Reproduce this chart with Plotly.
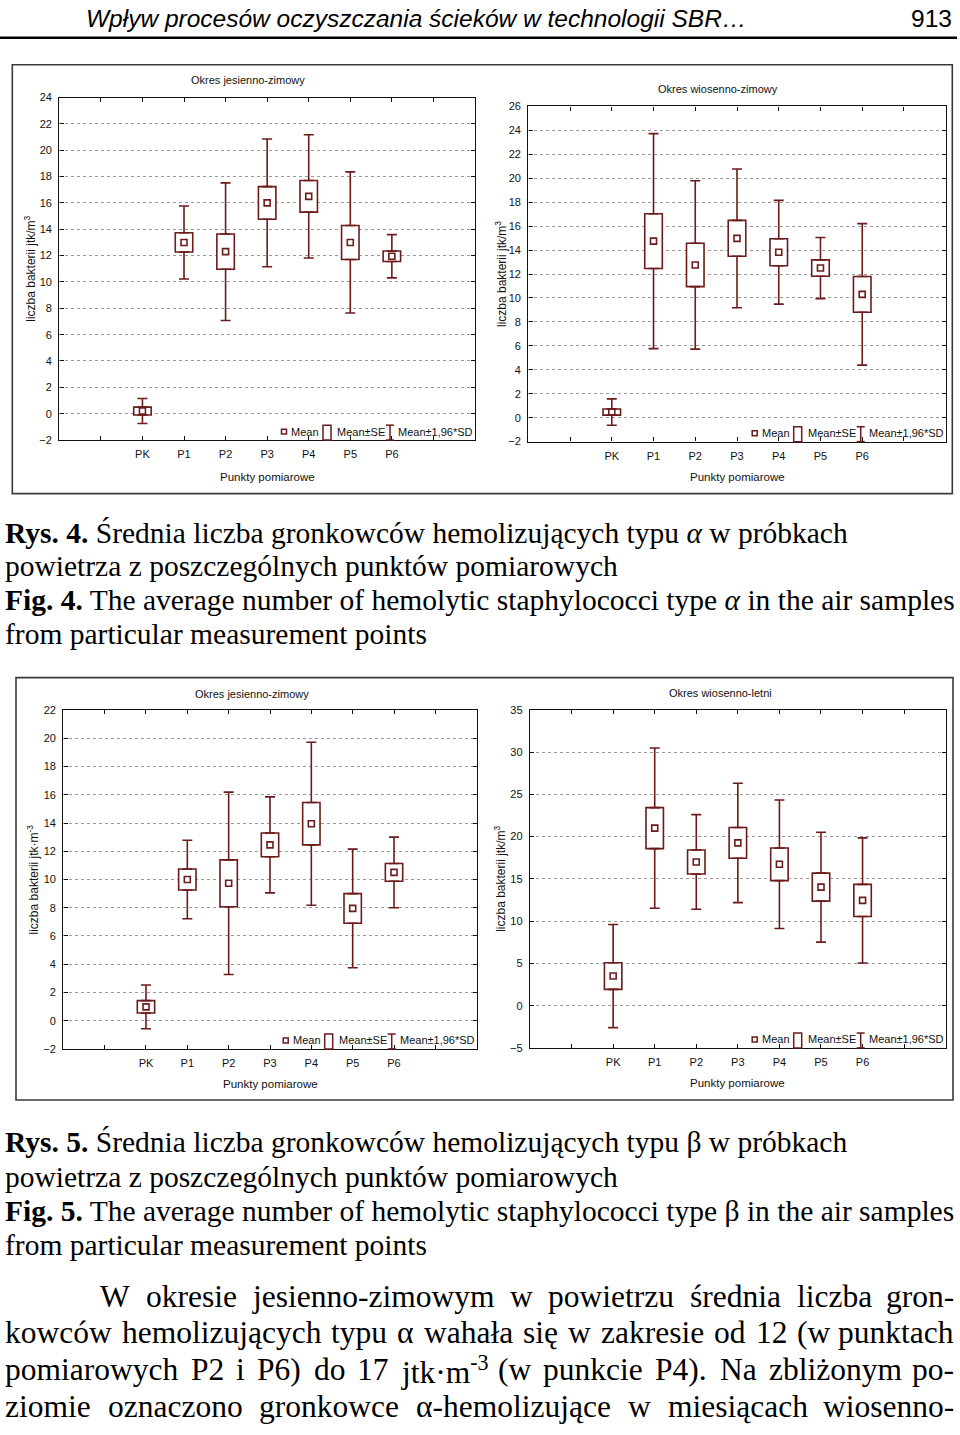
import plotly.graph_objects as go

# ---------------- data ----------------
categories = ["PK", "P1", "P2", "P3", "P4", "P5", "P6"]

# Fig. 4 (alpha) - autumn-winter
a_jz_mean = [0.2, 13.0, 12.3, 16.0, 16.5, 13.0, 11.95]
a_jz_se = [0.3, 0.73, 1.34, 1.24, 1.2, 1.29, 0.4]
a_jz_ci = [0.95, 2.77, 5.22, 4.85, 4.68, 5.36, 1.64]
# Fig. 4 (alpha) - spring-winter
a_wz_mean = [0.47, 14.75, 12.76, 14.98, 13.82, 12.5, 10.3]
a_wz_se = [0.26, 2.29, 1.81, 1.5, 1.13, 0.68, 1.49]
a_wz_ci = [1.1, 8.98, 7.03, 5.8, 4.33, 2.55, 5.91]
# Fig. 5 (beta) - autumn-winter
b_jz_mean = [0.98, 10.0, 9.73, 12.45, 13.95, 7.95, 10.5]
b_jz_se = [0.44, 0.74, 1.66, 0.84, 1.5, 1.05, 0.63]
b_jz_ci = [1.55, 2.78, 6.46, 3.4, 5.77, 4.2, 2.5]
# Fig. 5 (beta) - spring-summer
b_wl_mean = [3.5, 21.0, 17.0, 19.25, 16.72, 14.02, 12.45]
b_wl_se = [1.58, 2.42, 1.42, 1.82, 1.93, 1.66, 1.9]
b_wl_ci = [6.1, 9.48, 5.6, 7.06, 7.6, 6.5, 7.4]

legend_names = ["Mean", "Mean±SE", "Mean±1,96*SD"]

# ---------------- styling ----------------
W, H = 960, 1435
C = "#6b1b1b"
AX = "#111111"
CHART_FONT = "Liberation Sans, Arial, sans-serif"
SERIF = "Liberation Serif, Times New Roman, serif"
SANS = "Liberation Sans, Arial, sans-serif"


def px_x(x):
    return x / W


def px_y(y):
    return 1 - y / H


fig = go.Figure()
annotations = []
shapes = []


def ann(text, x, y, size, family=CHART_FONT, xanchor="center", angle=0, color=AX):
    annotations.append(dict(text=text, x=px_x(x), y=px_y(y), xref="paper", yref="paper",
                            xanchor=xanchor, yanchor="middle", showarrow=False,
                            textangle=angle, borderpad=0,
                            font=dict(family=family, size=size, color=color)))


def add_panel(k, mean, se, ci, box_px, yrange, dtick, title, ytitle,
              title_xy, ytitle_x, xtitle_xy):
    xa = "x" if k == 1 else f"x{k}"
    ya = "y" if k == 1 else f"y{k}"
    pos = list(range(len(categories)))
    lo = [m - s for m, s in zip(mean, se)]
    hi = [m + s for m, s in zip(mean, se)]
    ext = [c - s for c, s in zip(ci, se)]
    zeros = [0] * len(pos)

    # Mean ± SE boxes
    fig.add_trace(go.Bar(
        x=pos, y=[2 * s for s in se], base=lo, width=0.42,
        marker=dict(color="white", line=dict(color=C, width=1.6)),
        name=legend_names[1], xaxis=xa, yaxis=ya, showlegend=False, hoverinfo="skip"))
    # Mean ± 1.96*SD whiskers (upper and lower part, starting at box edges)
    fig.add_trace(go.Scatter(
        x=pos, y=hi, mode="markers", marker=dict(size=1, color=C),
        error_y=dict(type="data", symmetric=False, array=ext, arrayminus=zeros,
                     color=C, thickness=1.6, width=5),
        showlegend=False, xaxis=xa, yaxis=ya, hoverinfo="skip"))
    fig.add_trace(go.Scatter(
        x=pos, y=lo, mode="markers", marker=dict(size=1, color=C),
        error_y=dict(type="data", symmetric=False, array=zeros, arrayminus=ext,
                     color=C, thickness=1.6, width=5),
        showlegend=False, xaxis=xa, yaxis=ya, hoverinfo="skip"))
    # Means
    fig.add_trace(go.Scatter(
        x=pos, y=mean, mode="markers",
        marker=dict(symbol="square-open", size=6, color=C, line=dict(width=1.6, color=C)),
        name=legend_names[0], xaxis=xa, yaxis=ya, showlegend=False))

    x0, y0, x1, y1 = box_px
    tickfont = dict(family=CHART_FONT, size=11, color=AX)
    fig.layout[("xaxis" if k == 1 else f"xaxis{k}")] = dict(
        domain=[px_x(x0), px_x(x1)], range=[-2, len(categories) + 1],
        tickvals=pos, ticktext=categories,
        ticks="inside", ticklen=4, tickcolor=AX, showline=True, linecolor=AX,
        linewidth=1.4, mirror="ticks", showgrid=False, zeroline=False,
        minor=dict(tickvals=[-1, len(categories)], ticks="inside", ticklen=4,
                   tickcolor=AX, showgrid=False),
        tickfont=tickfont, ticklabelstandoff=4, anchor=ya, fixedrange=True)
    fig.layout[("yaxis" if k == 1 else f"yaxis{k}")] = dict(
        domain=[px_y(y1), px_y(y0)], range=yrange, dtick=dtick, tick0=0,
        ticks="inside", ticklen=4, tickcolor=AX, showline=True, linecolor=AX,
        linewidth=1.4, mirror="ticks", showgrid=True, gridcolor="#9a9a9a",
        griddash="dot", gridwidth=1, zeroline=False, tickfont=tickfont,
        ticklabelstandoff=4, anchor=xa, fixedrange=True)

    ann(title, title_xy[0], title_xy[1], 11)
    ann(ytitle, ytitle_x, (y0 + y1) / 2, 12, angle=-90)
    ann("Punkty pomiarowe", xtitle_xy[0], xtitle_xy[1], 11.5)

    # legend keys in the lower right corner of the plot area
    R, B = x1, y1
    ly = B - 8.5
    shapes.append(dict(type="rect", xref="paper", yref="paper",
                       x0=px_x(R - 193.5), x1=px_x(R - 188.5), y0=px_y(ly + 2.5), y1=px_y(ly - 2.5),
                       line=dict(color=C, width=1.5)))
    ann(legend_names[0], R - 185, ly, 11, xanchor="left")
    shapes.append(dict(type="rect", xref="paper", yref="paper",
                       x0=px_x(R - 152), x1=px_x(R - 144), y0=px_y(B), y1=px_y(B - 15),
                       line=dict(color=C, width=1.5), fillcolor="white"))
    ann(legend_names[1], R - 139, ly, 11, xanchor="left")
    shapes.append(dict(type="line", xref="paper", yref="paper",
                       x0=px_x(R - 85), x1=px_x(R - 85), y0=px_y(B), y1=px_y(B - 15),
                       line=dict(color=C, width=1.5)))
    for yy in (B, B - 15):
        shapes.append(dict(type="line", xref="paper", yref="paper",
                           x0=px_x(R - 89), x1=px_x(R - 81), y0=px_y(yy), y1=px_y(yy),
                           line=dict(color=C, width=1.5)))
    ann(legend_names[2], R - 78, ly, 11, xanchor="left")


add_panel(1, a_jz_mean, a_jz_se, a_jz_ci, (59.3, 92.3, 475, 437.7), [-2, 24], 2,
          "Okres jesienno-zimowy", "liczba bakterii jtk/m<sup>3</sup>",
          (248, 75), 30, (267, 475))
add_panel(2, a_wz_mean, a_wz_se, a_wz_ci, (528.3, 101.3, 945.7, 439.3), [-2, 26], 2,
          "Okres wiosenno-zimowy", "liczba bakterii jtk/m<sup>3</sup>",
          (718, 84), 501, (737, 475))
add_panel(3, b_jz_mean, b_jz_se, b_jz_ci, (63.3, 710, 476.7, 1051.7), [-2, 22], 2,
          "Okres jesienno-zimowy", "liczba bakterii jtk·m<sup>-3</sup>",
          (252, 694), 33, (270, 1087))
add_panel(4, b_wl_mean, b_wl_se, b_wl_ci, (530, 709.7, 945.7, 1050.7), [-5, 35], 5,
          "Okres wiosenno-letni", "liczba bakterii jtk/m<sup>3</sup>",
          (720, 693), 500, (737, 1086))

# figure frames
for (fx0, fy0, fx1, fy1) in [(12.3, 59.3, 952.3, 491.7), (16, 677.3, 953, 1103.3)]:
    shapes.append(dict(type="rect", xref="paper", yref="paper",
                       x0=px_x(fx0), x1=px_x(fx1), y0=px_y(fy1), y1=px_y(fy0),
                       line=dict(color="#3a3a3a", width=1.6), fillcolor="rgba(0,0,0,0)"))

# running header
ann("<i>Wpływ procesów oczyszczania ścieków w technologii SBR…</i>", 85, 13, 24.5,
    family=SANS, xanchor="left", color="black")
ann("913", 953, 13, 24.5, family=SANS, xanchor="right", color="black")
shapes.append(dict(type="line", xref="paper", yref="paper", x0=0, x1=px_x(957),
                   y0=px_y(32), y1=px_y(32), line=dict(color="black", width=2.6)))

# captions
CAP_FS = 29.5
captions = [
    (531, "<b>Rys. 4.</b> Średnia liczba gronkowców hemolizujących typu <i>α</i> w próbkach"),
    (565, "powietrza z poszczególnych punktów pomiarowych"),
    (599, "<b>Fig. 4.</b> The average number of hemolytic staphylococci type <i>α</i> in the air samples"),
    (633, "from particular measurement points"),
    (1146, "<b>Rys. 5.</b> Średnia liczba gronkowców hemolizujących typu β w próbkach"),
    (1181, "powietrza z poszczególnych punktów pomiarowych"),
    (1215, "<b>Fig. 5.</b> The average number of hemolytic staphylococci type β in the air samples"),
    (1249, "from particular measurement points"),
]
for yc, txt in captions:
    ann(txt, 4, yc, CAP_FS, family=SERIF, xanchor="left", color="black")

# body text (justified word by word using Times-compatible advance widths)
BODY_FS = 31.5
TW = dict(zip("abcdefghijklmnopqrstuvwxyz",
              [444, 500, 444, 500, 444, 333, 500, 500, 278, 278, 500, 278, 778, 500, 500,
               500, 500, 333, 389, 278, 500, 500, 722, 500, 500, 444]))
TW.update(dict(zip("ABCDEFGHIJKLMNOPQRSTUVWXYZ",
                   [722, 667, 667, 722, 611, 556, 722, 722, 333, 389, 722, 611, 889, 722, 722,
                    556, 722, 667, 556, 611, 722, 722, 944, 722, 722, 611])))
TW.update({d: 500 for d in "0123456789"})
TW.update({"(": 333, ")": 333, "-": 333, ".": 250, ",": 250, "·": 250, "α": 530,
           "ą": 444, "ę": 444, "ć": 444, "ł": 278, "ń": 500, "ó": 500, "ś": 389,
           "ź": 444, "ż": 444})


def word_width(w, fs):
    total = 0.0
    scale = 1.0
    i = 0
    while i < len(w):
        if w.startswith("<sup>", i):
            scale = 0.7
            i += 5
            continue
        if w.startswith("</sup>", i):
            scale = 1.0
            i += 6
            continue
        total += TW.get(w[i], 500) * scale
        i += 1
    return total / 1000 * fs


body = [
    (1301, 99, "W okresie jesienno-zimowym w powietrzu średnia liczba gron-"),
    (1338, 4, "kowców hemolizujących typu α wahała się w zakresie od 12 (w punktach"),
    (1375, 4, "pomiarowych P2 i P6) do 17 jtk·m<sup>-3</sup> (w punkcie P4). Na zbliżonym po-"),
    (1412, 4, "ziomie oznaczono gronkowce α-hemolizujące w miesiącach wiosenno-"),
]
RIGHT = 955
for yc, start, line in body:
    words = line.split(" ")
    widths = [word_width(w, BODY_FS) for w in words]
    gap = (RIGHT - start - sum(widths)) / (len(words) - 1)
    x = start
    for j, (w, ww) in enumerate(zip(words, widths)):
        last = j == len(words) - 1
        ann(w, RIGHT if last else x, yc, BODY_FS, family=SERIF,
            xanchor="right" if last else "left", color="black")
        x += ww + gap

fig.update_layout(
    width=W, height=H, margin=dict(l=0, r=0, t=0, b=0),
    paper_bgcolor="white", plot_bgcolor="white", showlegend=False,
    annotations=annotations, shapes=shapes, barmode="overlay",
    font=dict(family=CHART_FONT, color=AX), hovermode=False,
)

fig.write_html("out.html", config={"displayModeBar": False},
               post_script="document.body.style.margin='0px';document.body.style.overflow='hidden';")
